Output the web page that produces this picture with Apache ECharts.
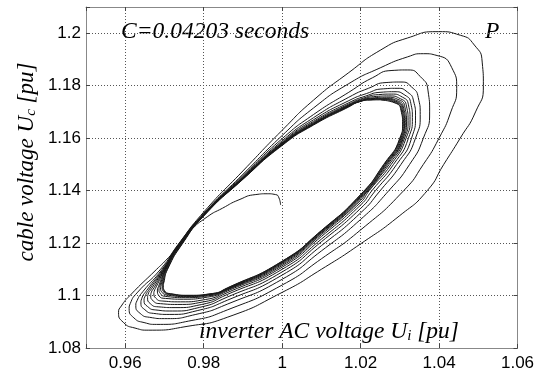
<!DOCTYPE html>
<html><head><meta charset="utf-8">
<script src="https://cdn.jsdelivr.net/npm/echarts@6/dist/echarts.min.js"></script>
<style>html,body{margin:0;padding:0;background:#fff}#c{width:547px;height:376px}</style>
</head><body><div id="c"></div>
<script>
// axis ticks
const xTicks = [0.96, 0.98, 1.0, 1.02, 1.04, 1.06];
const xTickLabels = ['0.96', '0.98', '1', '1.02', '1.04', '1.06'];
const yTicks = [1.08, 1.10, 1.12, 1.14, 1.16, 1.18, 1.20];
const yTickLabels = ['1.08', '1.1', '1.12', '1.14', '1.16', '1.18', '1.2'];

// trajectory (Ui, Uc) in pu
const startPath = [[0.9996,1.1345],[0.9992,1.1372],[0.9983,1.1385],[0.9962,1.1388],[0.9933,1.1385],[0.9890,1.1365],[0.9848,1.1333],[0.9809,1.1300],[0.9765,1.1245]];
const loop1 = [[0.9737,1.1190],[0.9704,1.1135],[0.9680,1.1100],[0.9612,1.1000],[0.9590,1.0960],[0.9583,1.0936],[0.9595,1.0898],[0.9625,1.0876],[0.9660,1.0868],[0.9760,1.0883],[0.9860,1.0917],[1.0000,1.1012],[1.0100,1.1100],[1.0200,1.1197],[1.0300,1.1305],[1.0370,1.1400],[1.0412,1.1500],[1.0454,1.1600],[1.0493,1.1700],[1.0513,1.1800],[1.0510,1.1890],[1.0490,1.1955],[1.0455,1.1992],[1.0398,1.2006],[1.0320,1.1982],[1.0250,1.1935],[1.0170,1.1850],[1.0080,1.1745],[1.0000,1.1630],[0.9900,1.1475],[0.9800,1.1318]];
const loop2 = [[0.9735,1.1195],[0.9690,1.1100],[0.9630,1.1010],[0.9613,1.0970],[0.9610,1.0950],[0.9622,1.0915],[0.9648,1.0897],[0.9680,1.0890],[0.9770,1.0905],[0.9860,1.0945],[1.0000,1.1040],[1.0100,1.1140],[1.0200,1.1250],[1.0310,1.1400],[1.0360,1.1500],[1.0400,1.1600],[1.0430,1.1700],[1.0445,1.1790],[1.0432,1.1870],[1.0395,1.1915],[1.0360,1.1922],[1.0320,1.1910],[1.0250,1.1868],[1.0170,1.1808],[1.0080,1.1715],[1.0000,1.1610],[0.9900,1.1462],[0.9800,1.1313]];
const loop3 = [[0.9736,1.1195],[0.9694,1.1100],[0.9645,1.1015],[0.9630,1.0980],[0.9627,1.0962],[0.9638,1.0932],[0.9662,1.0917],[0.9700,1.0912],[0.9780,1.0928],[0.9860,1.0967],[1.0000,1.1062],[1.0100,1.1170],[1.0200,1.1290],[1.0272,1.1400],[1.0325,1.1500],[1.0360,1.1600],[1.0376,1.1700],[1.0372,1.1780],[1.0352,1.1835],[1.0320,1.1860],[1.0280,1.1858],[1.0230,1.1830],[1.0170,1.1775],[1.0080,1.1690],[1.0000,1.1598],[0.9900,1.1457],[0.9800,1.1311]];
const loop4 = [[0.9737,1.1196],[0.9696,1.1100],[0.9655,1.1020],[0.9642,1.0988],[0.9640,1.0972],[0.9650,1.0946],[0.9672,1.0932],[0.9712,1.0928],[0.9785,1.0943],[0.9860,1.0982],[1.0000,1.1078],[1.0100,1.1190],[1.0200,1.1315],[1.0250,1.1400],[1.0303,1.1500],[1.0340,1.1600],[1.0352,1.1690],[1.0347,1.1755],[1.0330,1.1795],[1.0303,1.1814],[1.0265,1.1812],[1.0220,1.1790],[1.0170,1.1756],[1.0080,1.1678],[1.0000,1.1590],[0.9900,1.1453],[0.9800,1.1310]];
const loop5 = [[0.9738,1.1197],[0.9698,1.1100],[0.9662,1.1025],[0.9650,1.0995],[0.9648,1.0982],[0.9657,1.0958],[0.9678,1.0945],[0.9720,1.0941],[0.9790,1.0955],[0.9860,1.0994],[1.0000,1.1090],[1.0100,1.1205],[1.0200,1.1332],[1.0238,1.1400],[1.0292,1.1500],[1.0330,1.1600],[1.0340,1.1685],[1.0335,1.1742],[1.0320,1.1775],[1.0293,1.1790],[1.0258,1.1788],[1.0215,1.1770],[1.0170,1.1743],[1.0080,1.1670],[1.0000,1.1585],[0.9900,1.1450],[0.9800,1.1309]];
const loop6 = [[0.9739,1.1198],[0.9699,1.1100],[0.9668,1.1028],[0.9658,1.1003],[0.9657,1.0992],[0.9664,1.0969],[0.9684,1.0957],[0.9727,1.0954],[0.9795,1.0966],[0.9860,1.1004],[1.0000,1.1100],[1.0100,1.1215],[1.0200,1.1345],[1.0229,1.1400],[1.0284,1.1500],[1.0322,1.1600],[1.0332,1.1678],[1.0328,1.1733],[1.0313,1.1764],[1.0285,1.1777],[1.0252,1.1775],[1.0212,1.1760],[1.0170,1.1735],[1.0080,1.1664],[1.0000,1.1582],[0.9900,1.1449],[0.9800,1.1308]];
const loop7 = [[0.9740,1.1199],[0.9700,1.1100],[0.9674,1.1031],[0.9666,1.1010],[0.9665,1.1001],[0.9671,1.0980],[0.9690,1.0969],[0.9734,1.0966],[0.9800,1.0976],[0.9860,1.1011],[1.0000,1.1108],[1.0100,1.1225],[1.0200,1.1355],[1.0222,1.1400],[1.0278,1.1500],[1.0316,1.1600],[1.0326,1.1672],[1.0322,1.1727],[1.0307,1.1756],[1.0278,1.1768],[1.0246,1.1766],[1.0208,1.1753],[1.0170,1.1730],[1.0080,1.1660],[1.0000,1.1580],[0.9900,1.1448],[0.9800,1.1307]];
const loop8 = [[0.9741,1.1199],[0.9701,1.1100],[0.9679,1.1033],[0.9674,1.1017],[0.9673,1.1009],[0.9678,1.0990],[0.9696,1.0979],[0.9741,1.0976],[0.9805,1.0985],[0.9860,1.1017],[1.0000,1.1114],[1.0100,1.1232],[1.0200,1.1363],[1.0217,1.1400],[1.0273,1.1500],[1.0312,1.1600],[1.0321,1.1667],[1.0317,1.1722],[1.0302,1.1750],[1.0272,1.1761],[1.0240,1.1759],[1.0205,1.1748],[1.0170,1.1727],[1.0080,1.1657],[1.0000,1.1578],[0.9900,1.1447],[0.9800,1.1306]];
const loop9 = [[0.9742,1.1200],[0.9702,1.1100],[0.9685,1.1035],[0.9682,1.1021],[0.9686,1.0999],[0.9703,1.0989],[0.9748,1.0986],[0.9810,1.0994],[0.9860,1.1021],[1.0000,1.1119],[1.0100,1.1237],[1.0200,1.1369],[1.0269,1.1500],[1.0309,1.1600],[1.0317,1.1662],[1.0313,1.1718],[1.0298,1.1746],[1.0266,1.1756],[1.0236,1.1754],[1.0202,1.1744],[1.0170,1.1725],[1.0080,1.1655],[1.0000,1.1577],[0.9900,1.1446],[0.9800,1.1306]];
const loop10 = [[0.9743,1.1200],[0.9703,1.1100],[0.9689,1.1040],[0.9686,1.1026],[0.9690,1.1007],[0.9707,1.0996],[0.9753,1.0992],[0.9813,1.0999],[0.9860,1.1023],[1.0000,1.1123],[1.0100,1.1240],[1.0200,1.1374],[1.0266,1.1500],[1.0307,1.1600],[1.0314,1.1660],[1.0310,1.1714],[1.0295,1.1742],[1.0262,1.1752],[1.0232,1.1751],[1.0200,1.1741],[1.0170,1.1723],[1.0080,1.1654],[1.0000,1.1576],[0.9900,1.1446],[0.9800,1.1305]];
const loop11 = [[0.9744,1.1200],[0.9704,1.1100],[0.9692,1.1042],[0.9690,1.1030],[0.9694,1.1012],[0.9710,1.1001],[0.9757,1.0996],[0.9816,1.1003],[0.9860,1.1025],[1.0000,1.1126],[1.0100,1.1243],[1.0200,1.1378],[1.0264,1.1500],[1.0305,1.1600],[1.0312,1.1657],[1.0308,1.1711],[1.0293,1.1739],[1.0259,1.1750],[1.0229,1.1749],[1.0198,1.1740],[1.0170,1.1722],[1.0080,1.1653],[1.0000,1.1575],[0.9900,1.1445],[0.9800,1.1305]];
const limitA = [[0.9745,1.1200],[0.9705,1.1100],[0.9695,1.1045],[0.9694,1.1034],[0.9697,1.1016],[0.9713,1.1004],[0.9760,1.0998],[0.9820,1.1005],[0.9860,1.1026],[1.0000,1.1128],[1.0100,1.1245],[1.0200,1.1381],[1.0262,1.1500],[1.0303,1.1600],[1.0310,1.1655],[1.0306,1.1709],[1.0291,1.1737],[1.0256,1.1748],[1.0226,1.1747],[1.0196,1.1739],[1.0170,1.1721],[1.0080,1.1652],[1.0000,1.1574],[0.9900,1.1444],[0.9800,1.1304]];
const limitB = [[0.9746,1.1200],[0.9707,1.1100],[0.9697,1.1046],[0.9696,1.1036],[0.9699,1.1018],[0.9715,1.1006],[0.9762,1.1000],[0.9822,1.1007],[0.9860,1.1028],[1.0000,1.1130],[1.0100,1.1247],[1.0200,1.1384],[1.0260,1.1500],[1.0301,1.1600],[1.0308,1.1654],[1.0304,1.1707],[1.0289,1.1735],[1.0254,1.1746],[1.0224,1.1745],[1.0194,1.1737],[1.0170,1.1719],[1.0080,1.1650],[1.0000,1.1572],[0.9900,1.1443],[0.9800,1.1303]];
const limitC = [[0.9747,1.1200],[0.9708,1.1100],[0.9698,1.1047],[0.9697,1.1037],[0.9700,1.1019],[0.9716,1.1007],[0.9763,1.1001],[0.9823,1.1008],[0.9860,1.1029],[1.0000,1.1131],[1.0100,1.1248],[1.0200,1.1385],[1.0259,1.1500],[1.0300,1.1600],[1.0307,1.1653],[1.0303,1.1706],[1.0288,1.1734],[1.0253,1.1745]];

const trajectory = [].concat(startPath, loop1, loop2, loop3, loop4, loop5, loop6, loop7, loop8, loop9, loop10, loop11, limitA, limitB, limitC);

const chart = echarts.init(document.getElementById('c'), null, {renderer: 'canvas'});
const lab = (ticks, labels) => v => {
  const i = ticks.findIndex(t => Math.abs(t - v) < 1e-9);
  return i >= 0 ? labels[i] : '';
};
const serif = '"Liberation Serif", "Times New Roman", serif';
const sans = '"Liberation Sans", Arial, sans-serif';
const gridLine = {show: true, lineStyle: {color: '#555', type: [1, 2], width: 1}};
const boxLine = {show: true, onZero: false, lineStyle: {color: '#888', width: 1}};
const tick = {show: true, inside: true, length: 4, lineStyle: {color: '#444'}};

chart.setOption({
  animation: false,
  backgroundColor: '#fff',
  grid: {left: 86, top: 7, width: 431.5, height: 341, containLabel: false, outerBoundsMode: 'none'},
  xAxis: [
    {type: 'value', min: 0.95, max: 1.06, splitNumber: 5, position: 'bottom',
     axisLine: boxLine, axisTick: tick, splitLine: gridLine,
     axisLabel: {formatter: lab(xTicks, xTickLabels), color: '#000', fontFamily: sans, fontSize: 17, margin: 7}},
    {type: 'value', min: 0.95, max: 1.06, splitNumber: 5, position: 'top',
     axisLine: boxLine, axisTick: tick, splitLine: {show: false}, axisLabel: {show: false}}
  ],
  yAxis: [
    {type: 'value', min: 1.08, max: 1.21, splitNumber: 6, position: 'left',
     axisLine: boxLine, axisTick: tick, splitLine: gridLine,
     axisLabel: {formatter: lab(yTicks, yTickLabels), color: '#000', fontFamily: sans, fontSize: 17, margin: 5}},
    {type: 'value', min: 1.08, max: 1.21, splitNumber: 6, position: 'right',
     axisLine: boxLine, axisTick: tick, splitLine: {show: false}, axisLabel: {show: false}}
  ],
  series: [{
    type: 'line', xAxisIndex: 0, yAxisIndex: 0, data: trajectory,
    showSymbol: false, symbol: 'none', smooth: 0.6,
    lineStyle: {color: '#181818', width: 1}
  }],
  graphic: [
    {type: 'text', x: 121, y: 32, style: {text: 'C=0.04203 seconds', font: 'italic 23.5px ' + serif, fill: '#000', verticalAlign: 'middle'}},
    {type: 'text', x: 485, y: 32, style: {text: 'P', font: 'italic 23.5px ' + serif, fill: '#000', verticalAlign: 'middle'}},
    {type: 'text', x: 199, y: 332, style: {
      text: '{t|inverter AC voltage U}{s|i}{t| [pu]}', verticalAlign: 'middle', fill: '#000',
      rich: {t: {font: 'italic 23.5px ' + serif, lineHeight: 23, fill: '#000'},
             s: {font: 'italic 15px ' + serif, lineHeight: 8, verticalAlign: 'bottom', fill: '#000'}}}},
    {type: 'text', x: 27, y: 162, rotation: Math.PI / 2, style: {
      text: '{t|cable voltage U}{s|c}{t| [pu]}', align: 'center', verticalAlign: 'middle', fill: '#000',
      rich: {t: {font: 'italic 23px ' + serif, lineHeight: 23, fill: '#000'},
             s: {font: 'italic 15px ' + serif, lineHeight: 8, verticalAlign: 'bottom', fill: '#000'}}}}
  ]
});
</script>
</body></html>
